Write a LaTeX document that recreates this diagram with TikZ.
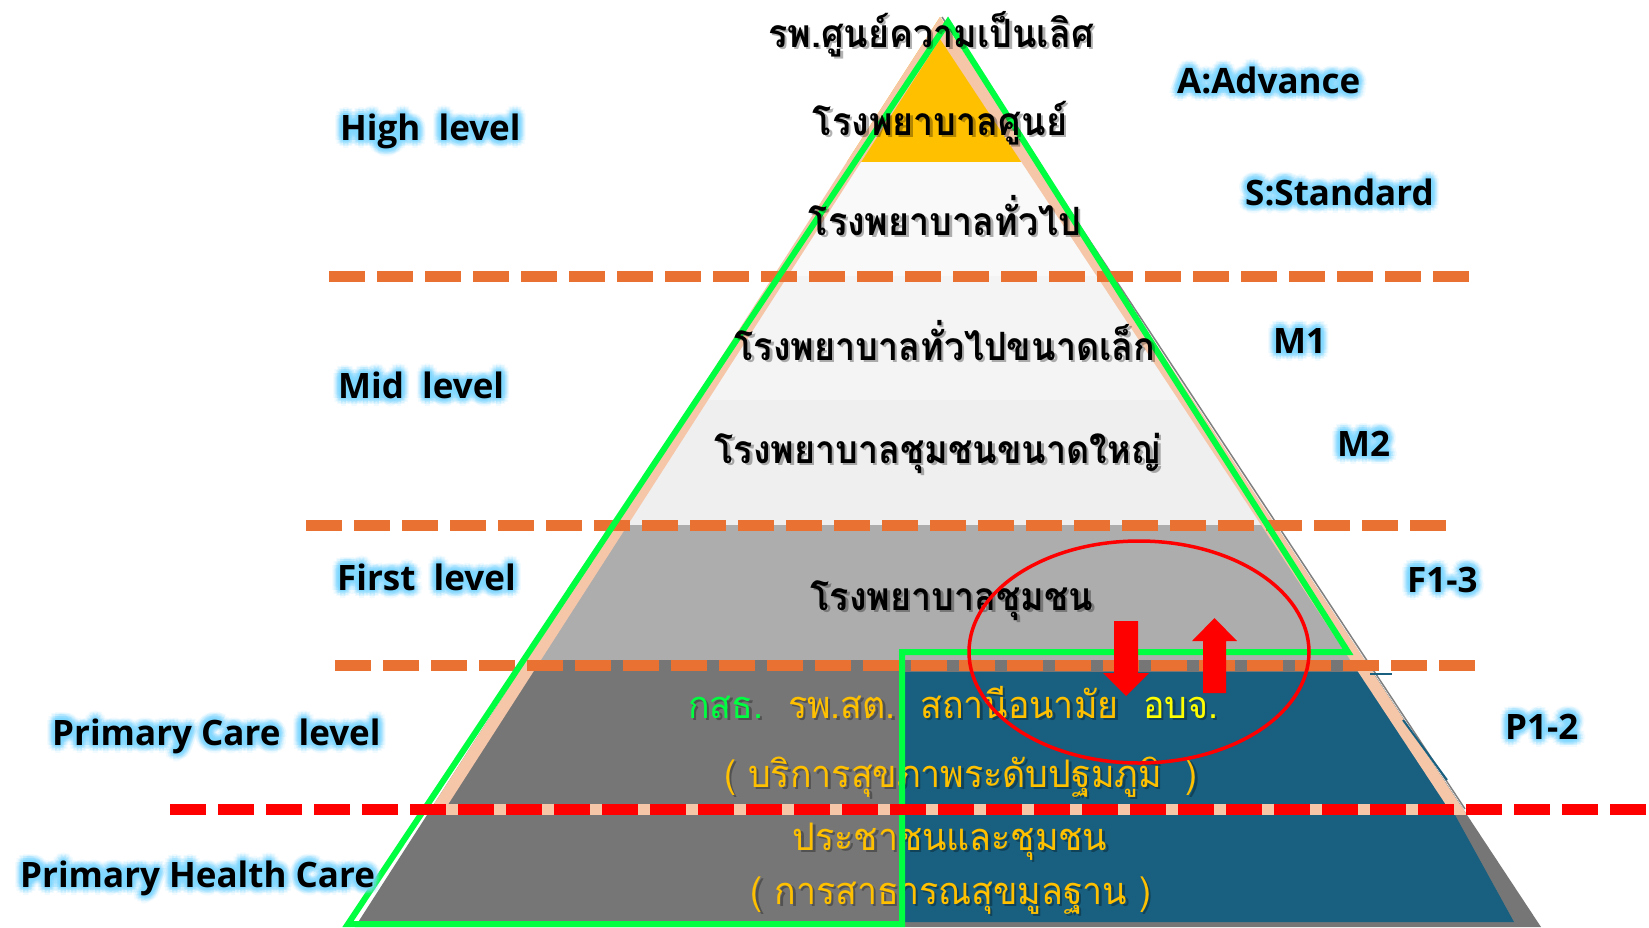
\documentclass[tikz,border=0pt]{standalone}
\usepackage{fontspec}
\setmainfont{Open Sans}
\newfontfamily\thaif[Script=Thai,FakeStretch=0.92]{Loma}
\newfontfamily\thaiy[Script=Thai,FakeStretch=0.94]{Loma}
\newfontfamily\latf{Open Sans}
\usetikzlibrary{calc}

\definecolor{goldc}{HTML}{FFC000}
\definecolor{bandA}{HTML}{F9F9F9}
\definecolor{bandB}{HTML}{F4F4F4}
\definecolor{bandC}{HTML}{EFEFEF}
\definecolor{bandD}{HTML}{ADADAD}
\definecolor{bandE}{HTML}{767676}
\definecolor{bluec}{HTML}{185F80}
\definecolor{peachc}{HTML}{F5C6A8}
\definecolor{orangec}{HTML}{E97132}
\definecolor{greenc}{HTML}{00FF40}
\definecolor{glowc}{HTML}{7FD8FF}
\definecolor{yellowc}{HTML}{FFFF00}

\tikzset{
  lbl/.style={font=\latf\bfseries\fontsize{35}{40}\selectfont, inner sep=0pt, anchor=base west},
  thb/.style={font=\thaif\bfseries\fontsize{39}{46}\selectfont, inner sep=0pt, anchor=base},
  thy/.style={font=\thaiy\fontsize{38}{44}\selectfont, inner sep=0pt, text=goldc, anchor=base},
  orangedash/.style={orangec, line width=11, dash pattern=on 36pt off 12pt},
  reddash/.style={red, line width=11, dash pattern=on 36pt off 12pt},
  greenline/.style={greenc, line width=6, line join=miter},
}

\newcommand\glowlabel[3]{%
  \foreach \rr/\oo in {8/0.1,6/0.16,4/0.24,2/0.3}{%
    \foreach \aa in {0,30,...,330}{%
      \node[lbl,text=glowc,opacity=\oo] at ($(#2)+(\aa:\rr)$) {#3};
    }%
  }%
  \node[lbl] (#1) at (#2) {#3};
}
\newcommand\shadowtext[4]{%
  \node[#3,text=black,opacity=0.3] at ($(#2)+(2.5,2.5)$) {#4};
  \node[#3] (#1) at (#2) {#4};
}

\begin{document}
\begin{tikzpicture}[x=1pt,y=-1pt]
\useasboundingbox (0,0) rectangle (1649,927);
\fill[white] (0,0) rectangle (1649,927);

\coordinate (apex) at (940,17);
\coordinate (bl) at (355,927);
\coordinate (br) at (1541,927);

% pyramid layers
\begin{scope}
  \clip (apex) -- (bl) -- (br) -- cycle;
  \fill[goldc] (300,0) rectangle (1600,162);
  \fill[bandA] (300,162) rectangle (1600,276);
  \fill[bandB] (300,276) rectangle (1600,400);
  \fill[bandC] (300,400) rectangle (1600,525);
  \fill[bandD] (300,525) rectangle (1600,660);
  \fill[bandE] (300,660) rectangle (1600,930);
  \fill[bluec] (905,672) -- (1600,672) -- (1600,809) -- (905,809) -- cycle;
  \fill[bluec] (905,815) -- (1455,815) -- (1514,922) -- (905,922) -- cycle;
  \begin{scope}
    \clip (0,0) rectangle (1649,809);
    \draw[peachc, line width=24, line join=miter] (bl) -- (apex) -- (br);
  \end{scope}
  \fill[peachc] (0,804) rectangle (1649,815);
\end{scope}
\draw[gray, line width=1.5] (942,17) -- (1465,809);
\draw[bluec, line width=2] (1403,720) -- (1447,780);
\draw[bluec, line width=2] (1370,674) -- (1392,674);

% orange dashed level lines
\coordinate (o1a) at (329,276); \coordinate (o1b) at (1470,276);
\coordinate (o2a) at (306,525); \coordinate (o2b) at (1447,525);
\coordinate (o3a) at (335,665); \coordinate (o3b) at (1476,665);
\draw[orangedash] (o1a) -- (o1b);
\draw[orangedash] (o2a) -- (o2b);
\draw[orangedash] (o3a) -- (o3b);

% yellow texts
\shadowtext{t1}{688,718}{thy, anchor=base west, text=greenc}{กสธ.}
\shadowtext{t2}{788,718}{thy, anchor=base west}{รพ.สต.}
\shadowtext{t3}{920,718}{thy, anchor=base west}{สถานีอนามัย}
\shadowtext{t4}{1143,718}{thy, anchor=base west, text=yellowc}{อบจ.}
\shadowtext{t5}{961,787}{thy}{( บริการสุขภาพระดับปฐมภูมิ \ )}
\shadowtext{t6}{950,850}{thy}{ประชาชนและชุมชน}
\shadowtext{t7}{951,904}{thy}{( การสาธารณสุขมูลฐาน )}

% green outline
\coordinate (g1) at (348,924);
\coordinate (g2) at (948,22);
\coordinate (g3) at (1348,652);
\coordinate (g4) at (902,652);
\coordinate (g5) at (902,924);
\draw[greenline] (g1) -- (g2) -- (g3) -- (g4) -- (g5) -- cycle;

% red dashed line
\coordinate (ra) at (170,809); \coordinate (rb) at (1660,809);
\draw[reddash] (ra) -- (rb);

% black Thai texts
\shadowtext{h1}{931,47}{thb}{รพ.ศูนย์ความเป็นเลิศ}
\shadowtext{h2}{940,135}{thb}{โรงพยาบาลศูนย์}
\shadowtext{h3}{945,235}{thb}{โรงพยาบาลทั่วไป}
\shadowtext{h4}{945,360}{thb}{โรงพยาบาลทั่วไปขนาดเล็ก}
\shadowtext{h5}{938,463}{thb}{โรงพยาบาลชุมชนขนาดใหญ่}
\shadowtext{h6}{952,610}{thb}{โรงพยาบาลชุมชน}

% glowing labels
\glowlabel{lh}{340,140}{High\ \ level}
\glowlabel{lm}{338,398}{Mid\ \ level}
\glowlabel{lf}{337,590}{First\ \ level}
\glowlabel{lp}{52,745}{Primary Care\ \ level}
\glowlabel{lphc}{20,887}{Primary Health Care}
\glowlabel{la}{1177,93}{A:Advance}
\glowlabel{ls}{1245,205}{S:Standard}
\glowlabel{lm1}{1273,353}{M1}
\glowlabel{lm2}{1337,456}{M2}
\glowlabel{lf3}{1407,592}{F1-3}
\glowlabel{lp2}{1505,739}{P1-2}

% red ellipse and arrows
\draw[red, line width=3.5] (1139,652) ellipse [x radius=170pt, y radius=111pt];
\fill[red] (1114,621) -- (1138,621) -- (1138,673) -- (1149,673) -- (1126,696) -- (1103,673) -- (1114,673) -- cycle;
\fill[red] (1203,693) -- (1226,693) -- (1226,641) -- (1237,641) -- (1214.5,618) -- (1192,641) -- (1203,641) -- cycle;
\end{tikzpicture}
\end{document}
